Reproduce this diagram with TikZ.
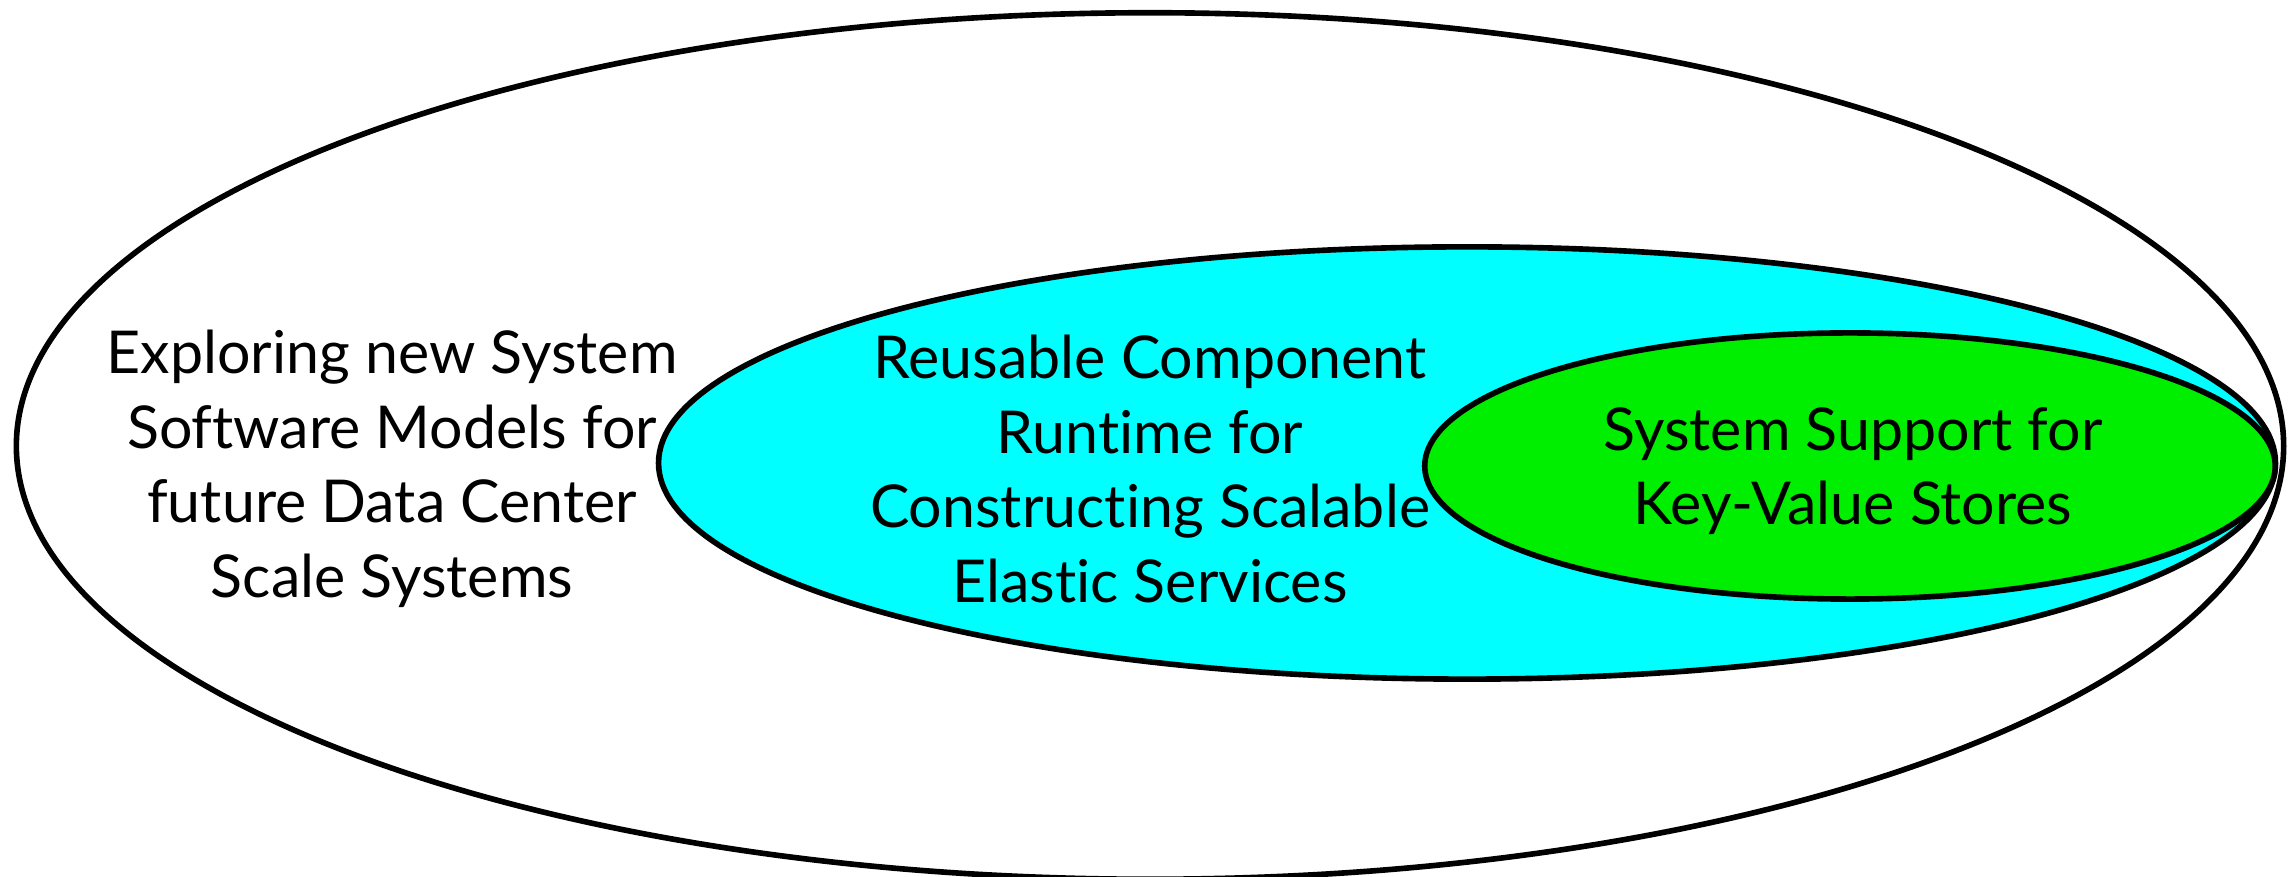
\documentclass[tikz,border=0pt]{standalone}
\usepackage{fontspec}
\setmainfont{Lato}[Ligatures={NoCommon,NoRare,NoDiscretionary}]
\usetikzlibrary{shapes.geometric}
\definecolor{runcyan}{RGB}{0,255,255}
\definecolor{kvgreen}{RGB}{0,238,0}
\tikzset{
  blob/.style={ellipse, draw=black, line width=1.6pt, inner sep=0pt},
  label/.style={align=center, font=\fontsize{16.8}{21.2}\selectfont}
}
\begin{document}
\begin{tikzpicture}[x=0.01cm, y=-0.01cm]
        \useasboundingbox (0,0) rectangle (2288,877);
        \node[blob, minimum width=22.66cm, minimum height=8.66cm] (outer) at (1150,446) {};
        \node[blob, fill=runcyan, minimum width=16.16cm, minimum height=4.32cm] (runtime) at (1467,463) {};
        \node[blob, fill=kvgreen, minimum width=8.5cm, minimum height=2.66cm] (kvstore) at (1850,466) {};
        \node[label] (explore) at (392,469) {Exploring new System\\Software Models for\\future Data Center\\Scale Systems};
        \node[label] (reuse) at (1150,469) {Reusable Component\\Runtime for\\Constructing Scalable\\Elastic Services};
        \node[label] (kvtext) at (1853,471) {System Support for\\Key-Value Stores};
\end{tikzpicture}
\end{document}
